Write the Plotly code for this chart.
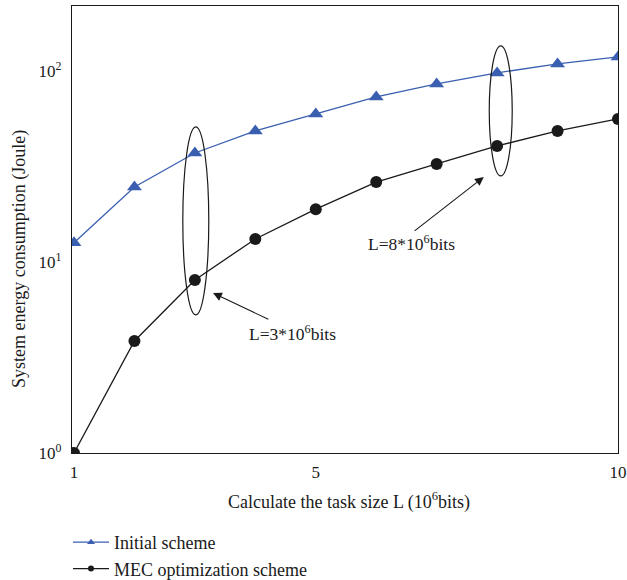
import plotly.graph_objects as go

task_size = [1, 2, 3, 4, 5, 6, 7, 8, 9, 10]
initial_scheme = [12.6, 24.7, 37.2, 48.5, 59.6, 73.1, 85.5, 97.7, 108.9, 118.4]
mec_scheme = [1.0, 3.86, 8.05, 13.2, 18.9, 26.2, 32.6, 40.5, 48.5, 56.1]
x_tick_vals = [1, 5, 10]
y_tick_vals = [1, 10, 100]
y_tick_text = ["10<sup>0</sup>", "10<sup>1</sup>", "10<sup>2</sup>"]

FONT = "Liberation Serif"
BLUE = "#3a5fb0"
BLACK = "#1a1a1a"
W, H = 627, 600  # figure slightly taller than the 580 view so the legend box never pushes margins
PL, PR, PT, PB = 72, 618, 6, 453  # plot area in pixels

fig = go.Figure()
fig.add_trace(go.Scatter(
    x=task_size, y=initial_scheme, mode="lines+markers", name="Initial scheme",
    line=dict(color=BLUE, width=1.3), showlegend=False,
    marker=dict(symbol="triangle-up", size=13, color=BLUE),
))
fig.add_trace(go.Scatter(
    x=task_size, y=mec_scheme, mode="lines+markers", name="MEC optimization scheme",
    line=dict(color=BLACK, width=1.3), showlegend=False,
    marker=dict(symbol="circle", size=12, color=BLACK),
))
# legend entries with small markers
fig.add_trace(go.Scatter(x=[None], y=[None], mode="lines+markers", name="Initial scheme",
                         line=dict(color=BLUE, width=1.3),
                         marker=dict(symbol="triangle-up", size=7, color=BLUE)))
fig.add_trace(go.Scatter(x=[None], y=[None], mode="lines+markers", name="MEC optimization scheme",
                         line=dict(color=BLACK, width=1.3),
                         marker=dict(symbol="circle", size=6, color=BLACK)))

# Ellipses (shape coords in data values)
fig.add_shape(type="circle", xref="x", yref="y", x0=2.80, x1=3.23, y0=5.28, y1=50.9,
              line=dict(color=BLACK, width=1.2))
fig.add_shape(type="circle", xref="x", yref="y", x0=7.87, x1=8.25, y0=28.2, y1=135.2,
              line=dict(color=BLACK, width=1.2))

# Arrows (annotation coords in log10 units on log axis)
for tip, tail in [((3.30, 0.838), (4.24, 0.696)), ((7.78, 1.445), (6.61, 1.157))]:
    fig.add_annotation(x=tip[0], y=tip[1], ax=tail[0], ay=tail[1], xref="x", yref="y",
                       axref="x", ayref="y", text="", showarrow=True,
                       arrowhead=2, arrowsize=1.6, arrowwidth=1.1, arrowcolor=BLACK)

fig.add_annotation(x=4.61, y=0.63, xref="x", yref="y", text="L=3*10<sup>6</sup>bits",
                   showarrow=False, font=dict(family=FONT, size=17.5, color=BLACK))
fig.add_annotation(x=6.58, y=1.097, xref="x", yref="y", text="L=8*10<sup>6</sup>bits",
                   showarrow=False, font=dict(family=FONT, size=17.5, color=BLACK))

# Axis titles (paper = whole figure since margins are zero)
fig.add_annotation(x=19 / W, y=1 - 259 / H, xref="paper", yref="paper", textangle=-90,
                   text="System energy consumption (Joule)", showarrow=False,
                   xanchor="center", yanchor="middle",
                   font=dict(family=FONT, size=18, color=BLACK))
fig.add_annotation(x=348.5 / W, y=1 - 501 / H, xref="paper", yref="paper",
                   text="Calculate the task size L (10<sup>6</sup>bits)", showarrow=False,
                   xanchor="center", yanchor="middle",
                   font=dict(family=FONT, size=18, color=BLACK))

fig.update_layout(
    width=W, height=H,
    margin=dict(l=0, r=0, t=0, b=0, pad=0),
    plot_bgcolor="white", paper_bgcolor="white",
    font=dict(family=FONT, size=15, color=BLACK),
    showlegend=True,
    legend=dict(x=68 / W, y=1 - 524 / H, xanchor="left", yanchor="top",
                font=dict(family=FONT, size=18, color=BLACK),
                tracegroupgap=0, itemwidth=36, bgcolor="rgba(0,0,0,0)"),
    xaxis=dict(domain=[PL / W, PR / W], range=[0.967, 10], tickvals=x_tick_vals,
               showgrid=False, zeroline=False,
               showline=True, linecolor=BLACK, linewidth=1.2, mirror=True, ticks="",
               automargin=False, ticklabelstandoff=3, tickfont=dict(size=17)),
    yaxis=dict(domain=[1 - PB / H, 1 - PT / H], type="log", range=[0, 2.34],
               tickvals=y_tick_vals, ticktext=y_tick_text,
               showgrid=False, zeroline=False, showline=True, linecolor=BLACK, linewidth=1.2,
               mirror=True, ticks="", automargin=False, ticklabelstandoff=6,
               tickfont=dict(size=17)),
)

fig.write_html("out.html", config={"displayModeBar": False},
               post_script="document.body.style.margin='0';document.body.style.overflow='hidden';"
                           "document.documentElement.style.overflow='hidden';")
